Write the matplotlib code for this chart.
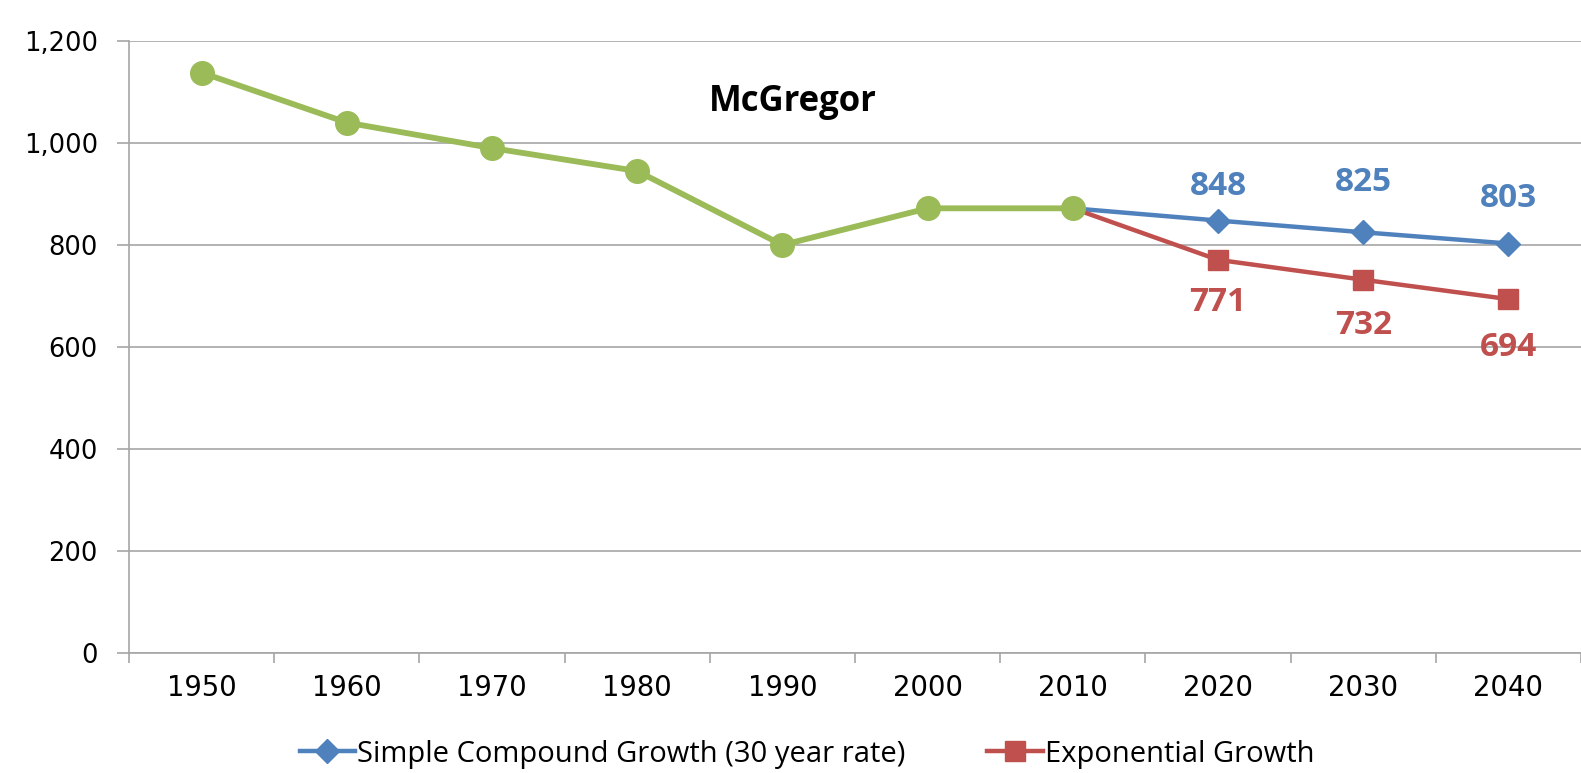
import matplotlib
matplotlib.use("Agg")
import matplotlib.pyplot as plt

# data
years = ["1950", "1960", "1970", "1980", "1990", "2000", "2010", "2020", "2030", "2040"]
historic = [1138, 1040, 990, 945, 800, 872, 872]
simple_growth = [872, 848, 825, 803]
exp_growth = [872, 771, 732, 694]

green = "#9BBB59"
blue = "#4F81BD"
red = "#C0504D"

fig = plt.figure(figsize=(15.81, 7.73), dpi=100)
ax = fig.add_axes([0.0816, 0.155, 0.9184, 0.792])

x_hist = list(range(len(historic)))
x_proj = list(range(len(historic) - 1, len(years)))

ax.plot(x_proj, simple_growth, color=blue, lw=3.2, marker="D", ms=12,
        markevery=[1, 2, 3], label="Simple Compound Growth (30 year rate)", zorder=3)
ax.plot(x_proj, exp_growth, color=red, lw=3.2, marker="s", ms=15,
        markevery=[1, 2, 3], label="Exponential Growth", zorder=3)
ax.plot(x_hist, historic, color=green, lw=4.2, marker="o", ms=17, zorder=4)

# value labels (pixel offsets from the point)
blue_off = [34, 50, 45]
red_off = [-43, -46, -48]
for i in range(1, 4):
    ax.annotate(str(simple_growth[i]), (x_proj[i], simple_growth[i]),
                xytext=(0, blue_off[i - 1]), textcoords="offset pixels",
                ha="center", va="center", color=blue, fontsize=24,
                fontweight="bold", family="Open Sans")
    ax.annotate(str(exp_growth[i]), (x_proj[i], exp_growth[i]),
                xytext=(0, red_off[i - 1]), textcoords="offset pixels",
                ha="center", va="center", color=red, fontsize=24,
                fontweight="bold", family="Open Sans")

ax.text(0.457, 0.9, "McGregor", transform=ax.transAxes, ha="center", va="center",
        fontsize=25, fontweight="bold", family="Open Sans")

ax.set_xlim(-0.5, len(years) - 0.5)
ax.set_ylim(0, 1200)
ax.set_yticks(range(0, 1201, 200))
ax.set_yticklabels([f"{v:,}" for v in range(0, 1201, 200)], fontsize=18.5)
ax.set_xticks([i - 0.5 for i in range(len(years) + 1)])
ax.set_xticklabels([])
ax.set_xticks(range(len(years)), minor=True)
ax.set_xticklabels(years, minor=True, fontsize=19.8)
ax.tick_params(axis="x", which="major", length=7, color="#a6a6a6", width=1.2)
ax.tick_params(axis="x", which="minor", length=0, pad=15)
ax.tick_params(axis="y", length=8.5, color="#a6a6a6", width=1.2, pad=14)

ax.grid(axis="y", color="#a6a6a6", lw=1.2)
ax.set_axisbelow(True)
for s in ["top", "right"]:
    ax.spines[s].set_visible(False)
ax.spines["left"].set_color("#a6a6a6")
ax.spines["bottom"].set_color("#a6a6a6")
ax.spines["left"].set_linewidth(1.2)
ax.spines["bottom"].set_linewidth(1.2)

leg = ax.legend(loc="center", bbox_to_anchor=(0.467, -0.165), ncol=2, frameon=False,
                handlelength=1.9, columnspacing=2.8, handletextpad=0.08,
                prop={"family": "Open Sans", "size": 21})

fig.savefig("out.png", dpi=100, facecolor="white")
